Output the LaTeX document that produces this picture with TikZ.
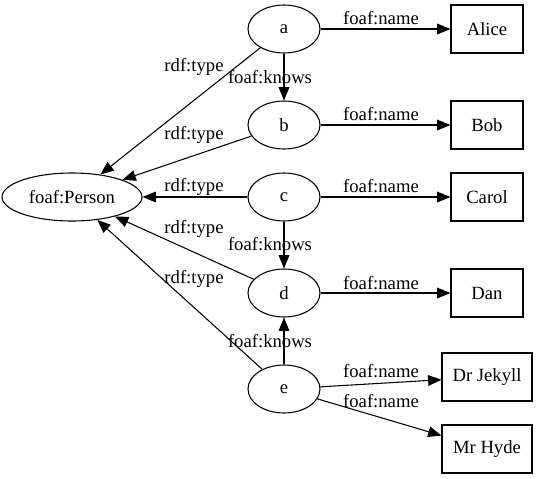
\documentclass[tikz,border=0pt]{standalone}
\usepackage{fontspec}
\setmainfont{Liberation Serif}
\usetikzlibrary{shapes.geometric,arrows.meta}
\tikzset{
  res/.style={draw,ellipse,line width=0.8pt,inner sep=0pt,minimum width=54pt,minimum height=36pt,font=\fontsize{14pt}{16pt}\selectfont},
  lit/.style={draw,rectangle,line width=0.8pt,inner sep=0pt,minimum width=54pt,minimum height=36pt,font=\fontsize{14pt}{16pt}\selectfont},
  lbl/.style={inner sep=0pt,font=\fontsize{14pt}{16pt}\selectfont},
  rel/.style={line width=0.8pt,-{Triangle[length=10pt,width=8pt]}}
}
\begin{document}
\begin{tikzpicture}[x=0.75pt,y=-0.75pt]
\useasboundingbox (0,0) rectangle (537,479);
% resources
\node[res] (a) at (284,29) {a};
\node[res] (b) at (284,125) {b};
\node[res] (c) at (284,197) {c};
\node[res] (d) at (284,293) {d};
\node[res] (e) at (284,389) {e};
\node[res,minimum width=105pt] (p) at (72,197) {foaf:Person};
% literals
\node[lit] (alice) at (487,29) {Alice};
\node[lit] (bob) at (487,125) {Bob};
\node[lit] (carol) at (487,197) {Carol};
\node[lit] (dan) at (487,293) {Dan};
\node[lit,minimum width=67.5pt] (jekyll) at (487,377) {Dr Jekyll};
\node[lit,minimum width=67.5pt] (hyde) at (487,449) {Mr Hyde};
% edges
\draw[rel] (a) -- (alice);
\draw[rel] (b) -- (bob);
\draw[rel] (c) -- (carol);
\draw[rel] (d) -- (dan);
\draw[rel] (e) -- (jekyll);
\draw[rel] (e) -- (hyde);
\draw[rel] (a) -- (b);
\draw[rel] (c) -- (d);
\draw[rel] (e) -- (d);
\draw[rel] (a) -- (p);
\draw[rel] (b) -- (p);
\draw[rel] (c) -- (p);
\draw[rel] (d) -- (p);
\draw[rel] (e) -- (p);
% labels
\node[lbl] (l1) at (381,18) {foaf:name};
\node[lbl] (l2) at (381,114) {foaf:name};
\node[lbl] (l3) at (381,186) {foaf:name};
\node[lbl] (l4) at (381,283) {foaf:name};
\node[lbl] (l5) at (381,371) {foaf:name};
\node[lbl] (l6) at (381,401) {foaf:name};
\node[lbl] (k1) at (270,77) {foaf:knows};
\node[lbl] (k2) at (270,244) {foaf:knows};
\node[lbl] (k3) at (270,341) {foaf:knows};
\node[lbl] (t1) at (194,67) {rdf:type};
\node[lbl] (t2) at (194,135) {rdf:type};
\node[lbl] (t3) at (194,187) {rdf:type};
\node[lbl] (t4) at (194,229) {rdf:type};
\node[lbl] (t5) at (194,279) {rdf:type};
\end{tikzpicture}
\end{document}
